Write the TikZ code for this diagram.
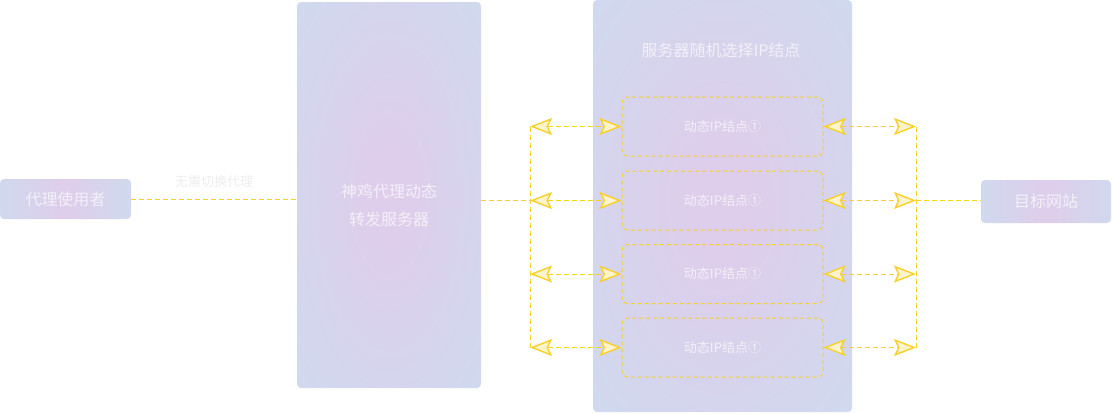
\documentclass[tikz,border=0pt]{standalone}
\usepackage{fontspec}
\setmainfont{Noto Sans CJK SC}
\usetikzlibrary{arrows.meta}
\definecolor{ylw}{HTML}{F8D02A}
\definecolor{ylwfill}{HTML}{FDF3CC}
\definecolor{bedge}{HTML}{D0D9ED}
\definecolor{pcenter}{HTML}{DFCDEC}
\definecolor{txt}{HTML}{F3F0F7}
\definecolor{lbl}{HTML}{EDEDED}
\pgfdeclareradialshading{softradial}{\pgfpoint{0bp}{0bp}}{%
  color(0bp)=(pcenter); color(4bp)=(pcenter); color(34bp)=(bedge); color(80bp)=(bedge)}
\tikzset{
  smallbox/.style={rounded corners=4pt, left color=bedge, right color=bedge, middle color=pcenter,
    text=txt, font=\fontsize{16}{20}\selectfont, inner sep=0pt},
  bigbox/.style={rounded corners=4pt, shading=softradial, inner sep=0pt},
  ipbox/.style={draw=ylw, dash pattern=on 4pt off 3pt, rounded corners=5pt, line width=1pt,
    minimum width=201pt, minimum height=59pt, text=txt, font=\fontsize{13}{16}\selectfont, inner sep=0pt},
  link/.style={draw=ylw, dash pattern=on 5pt off 3pt, line width=1pt},
  tip/.tip={Stealth[length=22pt, width=17pt, inset=4pt, fill=ylwfill, line width=1.4pt]},
  biarrow/.style={link, tip-tip},
}
\begin{document}
\begin{tikzpicture}[x=1pt, y=-1pt]
\useasboundingbox (0,0) rectangle (1112,413);
% boxes
\node[bigbox, minimum width=184pt, minimum height=386pt] (proxy) at (389,195) {};
\node[bigbox, minimum width=259pt, minimum height=412pt] (server) at (722.5,206) {};
\node[text=txt, font=\fontsize{16}{20}\selectfont, align=center] (proxytxt) at (389,205)
  {神鸡代理动态\\[8pt]转发服务器};
\node[text=txt, font=\fontsize{16}{20}\selectfont] (servertxt) at (721,50) {服务器随机选择IP结点};
\node[smallbox, minimum width=131pt, minimum height=40pt] (user) at (65.5,199) {代理使用者};
\node[smallbox, minimum width=130pt, minimum height=43pt] (target) at (1046,201.5) {目标网站};
\node[ipbox] (n1) at (722.5,126.5) {动态IP结点①};
\node[ipbox] (n2) at (722.5,200.5) {动态IP结点①};
\node[ipbox] (n3) at (722.5,274) {动态IP结点①};
\node[ipbox] (n4) at (722.5,347.5) {动态IP结点①};
% junction coordinates
\coordinate (L1) at (530,126.5);
\coordinate (L2) at (530,200.5);
\coordinate (L3) at (530,274);
\coordinate (L4) at (530,347.5);
\coordinate (R1) at (916,126.5);
\coordinate (R2) at (916,200.5);
\coordinate (R3) at (916,274);
\coordinate (R4) at (916,347.5);
% connectors
\draw[link] (user.east) -- (user.east -| proxy.west)
  node[midway, above=8pt, text=lbl, font=\fontsize{13}{16}\selectfont] (nolabel) {无需切换代理};
\draw[link] (proxy.east |- L2) -- (L2);
\draw[link] (L1) -- (L4);
\draw[link] (R1) -- (R4);
\draw[link] (R2) -- (target.west |- R2);
\foreach \i in {1,2,3,4}{
  \draw[biarrow] (L\i) -- (n\i.west);
  \draw[biarrow] (n\i.east) -- (R\i);
}
\end{tikzpicture}
\end{document}
